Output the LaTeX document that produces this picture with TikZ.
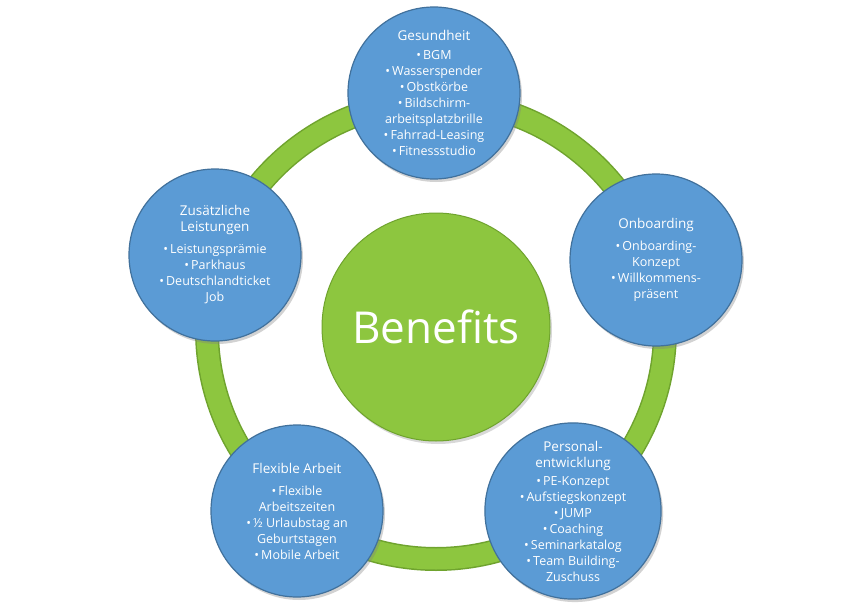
\documentclass[tikz,border=0pt]{standalone}
\usepackage{fontspec}
\setmainfont{Open Sans}
\usetikzlibrary{shadows}
\definecolor{bfill}{HTML}{5B9BD5}
\definecolor{bdraw}{HTML}{41719C}
\definecolor{gfill}{HTML}{8DC63F}
\definecolor{gdraw}{HTML}{6FA32E}
\newcommand{\hdr}{\fontsize{13.5}{16.5}\selectfont}
\newcommand{\bl}{•\,}
\begin{document}
\begin{tikzpicture}[x=1pt,y=-1pt,
  bub/.style={circle,minimum size=172pt,inner sep=0pt,fill=bfill,draw=bdraw,line width=1.2pt,
    text=white,align=center,font=\fontsize{12.5}{16}\selectfont,
    drop shadow={shadow xshift=2pt,shadow yshift=-3pt,opacity=0.35}}]
\useasboundingbox (0,0) rectangle (868,610);
\fill[white] (0,0) rectangle (868,610);
% ring
\draw[gdraw,line width=24pt] (436,330) circle (229);
\draw[gfill,line width=21pt] (436,330) circle (229);
\node[circle,minimum size=228pt,inner sep=0pt,fill=gfill,draw=gdraw,line width=1pt,text=white,
  font=\fontsize{44}{48}\selectfont,drop shadow={shadow xshift=2pt,shadow yshift=-3pt,opacity=0.3}] (c) at (436,327) {Benefits};
\node[bub] (g) at (434,93) {{\hdr Gesundheit}\\[3pt] \bl BGM\\ \bl Wasserspender\\ \bl Obstkörbe\\ \bl Bildschirm-\\arbeitsplatzbrille\\ \bl Fahrrad-Leasing\\ \bl Fitnessstudio};
\node[bub] (o) at (656,260) {{\hdr Onboarding}\\[6pt] \bl Onboarding-\\Konzept\\ \bl Willkommens-\\präsent};
\node[bub] (p) at (573,511) {{\hdr Personal-}\\{\hdr entwicklung}\\[2pt] \bl PE-Konzept\\ \bl Aufstiegskonzept\\ \bl JUMP\\ \bl Coaching\\ \bl Seminarkatalog\\ \bl Team Building-\\Zuschuss};
\node[bub] (f) at (297,511) {{\hdr Flexible Arbeit}\\[6pt] \bl Flexible\\Arbeitszeiten\\ \bl ½ Urlaubstag an\\Geburtstagen\\ \bl Mobile Arbeit};
\node[bub] (z) at (215,255) {{\hdr Zusätzliche}\\{\hdr Leistungen}\\[6pt] \bl Leistungsprämie\\ \bl Parkhaus\\ \bl Deutschlandticket\\Job};
\end{tikzpicture}
\end{document}
